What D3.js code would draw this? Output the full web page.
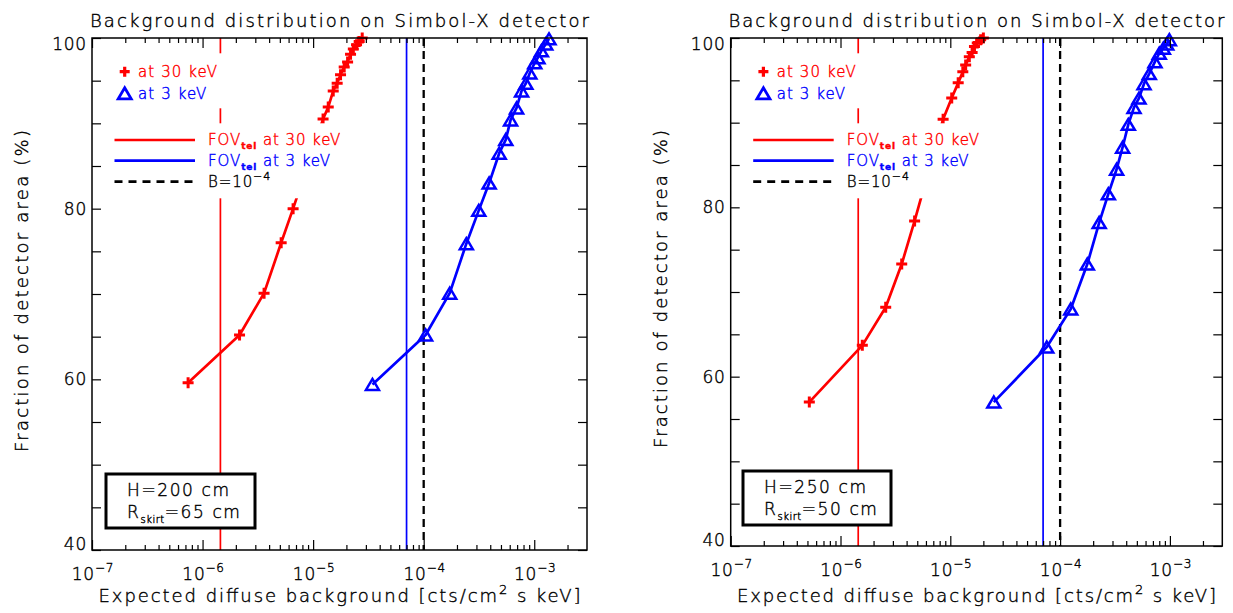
<!DOCTYPE html>
<html>
<head>
<meta charset="utf-8">
<script src="https://cdn.jsdelivr.net/npm/d3@7"></script>
<style>
  body { margin: 0; background: #fff; }
  svg text { font-family: "DejaVu Sans", sans-serif; font-weight: 200; fill: #000; stroke: #000; stroke-width: 0.4px; }
</style>
</head>
<body>
<svg id="chart" width="1233" height="613"></svg>
<script>
// axes
const xDomain = [1e-7, 3e-3];
const yDomain = [40, 100];
const xTickExps = [-7, -6, -5, -4, -3];
const yTickLabels = [40, 60, 80, 100];

// reference lines
const fovTel30 = 1.45e-6;
const fovTel3 = 7.0e-5;
const bLimit = 1e-4;

// H=200 cm, Rskirt=65 cm
const leftRed30X = [7.4e-7, 2.16e-6, 3.60e-6, 5.14e-6, 6.59e-6, 1.23e-5, 1.37e-5, 1.52e-5, 1.65e-5, 1.77e-5, 1.91e-5, 2.05e-5, 2.18e-5, 2.31e-5, 2.47e-5, 2.61e-5, 2.78e-5];
const leftRed30Y = [59.6, 65.2, 70.1, 76.0, 80.0, 90.5, 91.9, 93.8, 94.7, 95.7, 96.6, 97.2, 98.1, 98.7, 99.2, 99.6, 100];
const leftBlue3X = [3.44e-5, 1.04e-4, 1.72e-4, 2.43e-4, 3.15e-4, 3.91e-4, 4.82e-4, 5.53e-4, 6.11e-4, 6.92e-4, 7.68e-4, 8.40e-4, 9.12e-4, 1.01e-3, 1.08e-3, 1.16e-3, 1.27e-3, 1.36e-3];
const leftBlue3Y = [59.4, 65.2, 70.1, 75.9, 79.8, 83.0, 86.5, 88.1, 90.4, 91.8, 93.8, 94.7, 95.9, 97.1, 97.7, 98.5, 99.3, 99.9];

// H=250 cm, Rskirt=50 cm
const rightRed30X = [5.2e-7, 1.58e-6, 2.58e-6, 3.61e-6, 4.73e-6, 8.6e-6, 1.03e-5, 1.18e-5, 1.30e-5, 1.38e-5, 1.49e-5, 1.58e-5, 1.66e-5, 1.76e-5, 1.89e-5, 2.0e-5];
const rightRed30Y = [57.0, 63.7, 68.2, 73.3, 78.4, 90.4, 92.9, 94.7, 96.0, 96.8, 97.8, 98.3, 99.0, 99.4, 99.8, 100];
const rightBlue3X = [2.49e-5, 7.56e-5, 1.25e-4, 1.77e-4, 2.27e-4, 2.75e-4, 3.27e-4, 3.71e-4, 4.18e-4, 4.71e-4, 5.23e-4, 5.81e-4, 6.49e-4, 7.31e-4, 8.0e-4, 8.71e-4, 9.35e-4, 9.88e-4];
const rightBlue3Y = [57.0, 63.5, 68.0, 73.3, 78.2, 81.6, 84.5, 87.1, 89.8, 91.8, 92.9, 94.6, 95.8, 97.2, 98.2, 98.8, 99.3, 99.8];

const titleText = 'Background distribution on Simbol-X detector';
const yTitleText = 'Fraction of detector area (%)';

const RED = '#ff0000', BLUE = '#0000ff';

const panels = [
  { x0: 92, x1: 587, y0: 38, y1: 550,
    red: [leftRed30X, leftRed30Y], blue: [leftBlue3X, leftBlue3Y],
    h: 'H=200 cm', r: '=65 cm', box: [106, 474, 149, 54],
    titleLen: 499, xTitleLen: 482, yTitleLen: 322 },
  { x0: 730.7, x1: 1222.3, y0: 38, y1: 546,
    red: [rightRed30X, rightRed30Y], blue: [rightBlue3X, rightBlue3Y],
    h: 'H=250 cm', r: '=50 cm', box: [743, 471, 148, 54],
    titleLen: 496, xTitleLen: 479, yTitleLen: 318 }
];

const svg = d3.select('#chart');

function plusPath(s) { return `M${-s},0H${s}M0,${-s}V${s}`; }
const triPath = 'M0,-5.5L6.5,5.5L-6.5,5.5Z';

function drawPanel(p) {
  const x = d3.scaleLog().domain(xDomain).range([p.x0, p.x1]);
  const y = d3.scaleLinear().domain(yDomain).range([p.y1, p.y0]);
  const g = svg.append('g');

  // vertical reference lines
  g.append('line').attr('x1', x(fovTel30)).attr('x2', x(fovTel30))
    .attr('y1', p.y0).attr('y2', p.y1).attr('stroke', RED).attr('stroke-width', 1.7);
  g.append('line').attr('x1', x(fovTel3)).attr('x2', x(fovTel3))
    .attr('y1', p.y0).attr('y2', p.y1).attr('stroke', BLUE).attr('stroke-width', 1.7);
  g.append('line').attr('x1', x(bLimit)).attr('x2', x(bLimit))
    .attr('y1', p.y0).attr('y2', p.y1).attr('stroke', '#000').attr('stroke-width', 2.3)
    .attr('stroke-dasharray', '8,5');

  const series = [
    { xs: p.red[0], ys: p.red[1], color: RED, sym: 'plus' },
    { xs: p.blue[0], ys: p.blue[1], color: BLUE, sym: 'tri' }
  ];
  series.forEach(s => {
    const pts = s.xs.map((v, i) => [x(v), y(s.ys[i])]);
    g.append('path').attr('d', d3.line()(pts)).attr('fill', 'none')
      .attr('stroke', s.color).attr('stroke-width', 2.7).attr('stroke-linejoin', 'round');
    g.selectAll(null).data(pts).join('path')
      .attr('transform', d => `translate(${d[0]},${d[1]})`)
      .attr('d', s.sym === 'plus' ? plusPath(5.5) : triPath)
      .attr('fill', 'none').attr('stroke', s.color).attr('stroke-width', s.sym === 'plus' ? 3 : 2.5);
  });

  // legend (erases what lies beneath)
  const lx = p.x0;
  g.append('rect').attr('x', lx + 18).attr('y', 53.3).attr('width', 115).attr('height', 55)
    .attr('fill', '#fff');
  g.append('rect').attr('x', lx + 15).attr('y', 123.3).attr('width', 232).attr('height', 75)
    .attr('fill', '#fff');

  g.append('path').attr('transform', `translate(${lx + 32.7},71.7)`).attr('d', plusPath(5))
    .attr('stroke', RED).attr('stroke-width', 3.2);
  g.append('text').attr('x', lx + 46).attr('y', 77).style('font-size', '15px')
    .style('letter-spacing', '1.1px').style('fill', RED).style('stroke', RED).text('at 30 keV');
  g.append('path').attr('transform', `translate(${lx + 32.7},93.3)`).attr('d', triPath)
    .attr('fill', 'none').attr('stroke', BLUE).attr('stroke-width', 2.8);
  g.append('text').attr('x', lx + 46).attr('y', 99).style('font-size', '15px')
    .style('letter-spacing', '1.1px').style('fill', BLUE).style('stroke', BLUE).text('at 3 keV');

  const lineRows = [
    { yy: 140, color: RED, dash: null, label: ' at 30 keV', fov: true },
    { yy: 160.7, color: BLUE, dash: null, label: ' at 3 keV', fov: true },
    { yy: 181.7, color: '#000', dash: '8,6', label: null, fov: false }
  ];
  lineRows.forEach(r => {
    g.append('line').attr('x1', lx + 22.5).attr('x2', lx + 103).attr('y1', r.yy).attr('y2', r.yy)
      .attr('stroke', r.color).attr('stroke-width', 2.7).attr('stroke-dasharray', r.dash);
    const t = g.append('text').attr('x', lx + 116).attr('y', r.yy + 5).style('font-size', '15px')
      .style('letter-spacing', '0.9px').style('fill', r.color).style('stroke', r.color);
    if (r.fov) {
      t.append('tspan').text('FOV');
      t.append('tspan').attr('dy', 4).style('font-size', '9px').style('font-weight', 'bold').text('tel');
      t.append('tspan').attr('dy', -4).text(r.label);
    } else {
      t.append('tspan').text('B=10');
      t.append('tspan').attr('dy', -7).style('font-size', '11px').text('−4');
    }
  });

  // parameter box
  const [bx, by, bw, bh] = p.box;
  g.append('rect').attr('x', bx).attr('y', by).attr('width', bw).attr('height', bh)
    .attr('fill', '#fff').attr('stroke', '#000').attr('stroke-width', 3);
  g.append('text').attr('x', bx + 21).attr('y', by + 22).style('font-size', '17px')
    .style('letter-spacing', '1.6px').text(p.h);
  const rt = g.append('text').attr('x', bx + 21).attr('y', by + 44).style('font-size', '17px')
    .style('letter-spacing', '1.6px');
  rt.append('tspan').text('R');
  rt.append('tspan').attr('dy', 5).style('font-size', '10px').style('letter-spacing', '0.5px').text('skirt');
  rt.append('tspan').attr('dy', -5).text(p.r);

  // ticks
  const majorX = xTickExps.map(e => Math.pow(10, e));
  const minorX = [];
  d3.range(-7, -2).forEach(e => d3.range(2, 10).forEach(k => {
    const v = k * Math.pow(10, e);
    if (v < xDomain[1]) minorX.push(v);
  }));
  const yTicks = d3.range(40, 101, 5);
  const noDomain = a => a.select('.domain').remove();
  const tickStyle = a => a.selectAll('line').attr('stroke', '#000').attr('stroke-width', 1.2);

  [[majorX, 10], [minorX, 5]].forEach(([vals, len]) => {
    g.append('g').attr('transform', `translate(0,${p.y1})`)
      .call(d3.axisBottom(x).tickValues(vals).tickSize(-len).tickFormat(''))
      .call(noDomain).call(tickStyle);
    g.append('g').attr('transform', `translate(0,${p.y0})`)
      .call(d3.axisTop(x).tickValues(vals).tickSize(-len).tickFormat(''))
      .call(noDomain).call(tickStyle);
  });
  g.append('g').attr('transform', `translate(${p.x0},0)`)
    .call(d3.axisLeft(y).tickValues(yTicks).tickSize(-9).tickFormat(''))
    .call(noDomain).call(tickStyle);
  g.append('g').attr('transform', `translate(${p.x1},0)`)
    .call(d3.axisRight(y).tickValues(yTicks).tickSize(-9).tickFormat(''))
    .call(noDomain).call(tickStyle);

  g.append('rect').attr('x', p.x0).attr('y', p.y0)
    .attr('width', p.x1 - p.x0).attr('height', p.y1 - p.y0)
    .attr('fill', 'none').attr('stroke', '#000').attr('stroke-width', 1.5);

  // tick labels
  xTickExps.forEach(e => {
    const t = g.append('text').attr('x', x(Math.pow(10, e)) + 1).attr('y', p.y1 + 30)
      .attr('text-anchor', 'middle').style('font-size', '17px').style('letter-spacing', '0.8px');
    t.append('tspan').text('10');
    t.append('tspan').attr('dy', -8).style('font-size', '12px').text('−' + Math.abs(e));
  });
  yTickLabels.forEach(v => {
    let base = y(v) + 6;
    if (v === yDomain[0]) base = y(v);
    if (v === yDomain[1]) base = y(v) + 12;
    g.append('text').attr('x', p.x0 - 5).attr('y', base).attr('text-anchor', 'end')
      .style('font-size', '17px').style('letter-spacing', '0.8px').text(v);
  });

  // titles
  const cx = (p.x0 + p.x1) / 2;
  g.append('text').attr('x', cx).attr('y', 27).attr('text-anchor', 'middle')
    .style('font-size', '18px').attr('textLength', p.titleLen).attr('lengthAdjust', 'spacing')
    .text(titleText);
  const xt = g.append('text').attr('x', cx).attr('y', 602).attr('text-anchor', 'middle')
    .style('font-size', '18px').attr('textLength', p.xTitleLen).attr('lengthAdjust', 'spacing');
  xt.append('tspan').text('Expected diffuse background [cts/cm');
  xt.append('tspan').attr('dy', -8).style('font-size', '13px').text('2');
  xt.append('tspan').attr('dy', 8).text(' s keV]');
  const cy = (p.y0 + p.y1) / 2 - 3;
  g.append('text').attr('transform', `translate(${p.x0 - 64},${cy}) rotate(-90)`)
    .attr('text-anchor', 'middle').style('font-size', '18px')
    .attr('textLength', p.yTitleLen).attr('lengthAdjust', 'spacing').text(yTitleText);
}

panels.forEach(drawPanel);
</script>
</body>
</html>
